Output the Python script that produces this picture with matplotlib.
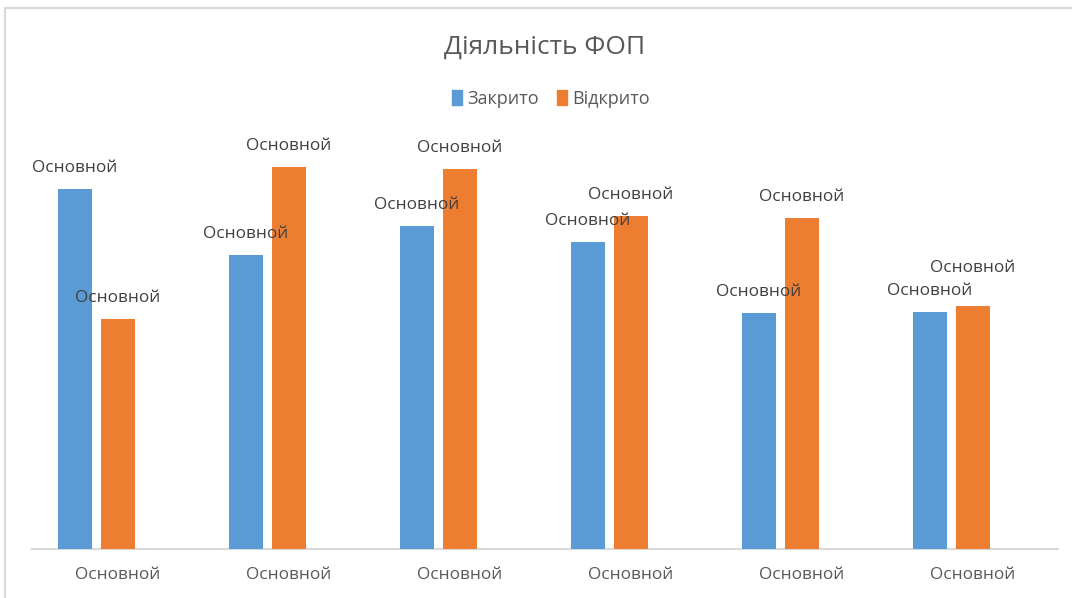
import matplotlib
matplotlib.use("Agg")
import matplotlib.pyplot as plt
from matplotlib.lines import Line2D
from matplotlib.patches import Patch
import numpy as np

plt.rcParams['font.family'] = ['Open Sans', 'DejaVu Sans']

title = "Діяльність ФОП"
categories = ["Основной"] * 6
series_names = ["Закрито", "Відкрито"]
closed = [360, 294, 323, 307, 236, 237]
opened = [230, 382, 380, 333, 331, 243]
labels_closed = ["Основной"] * 6
labels_opened = ["Основной"] * 6

BLUE = "#5B9BD5"
ORANGE = "#ED7D31"
GRAY = "#595959"
LABEL = "#404040"

W, H = 1072, 598
fig = plt.figure(figsize=(W / 100, H / 100), dpi=100)
ax = fig.add_axes([32 / W, 49 / H, 1026 / W, 400 / H])

x = np.arange(len(categories))
bw = 34 / 171
off_blue = -43 / 171
ax.bar(x + off_blue, closed, width=bw, color=BLUE, zorder=2)
ax.bar(x, opened, width=bw, color=ORANGE, zorder=2)

ax.set_xlim(-0.5, len(categories) - 0.5)
ax.set_ylim(0, 400)

# data labels
lab_off_closed = [21, 21, 21, 21, 21, 21]
lab_off_opened = [21, 21, 21, 21, 21, 38]
for i in range(len(categories)):
    ax.annotate(labels_closed[i], (x[i] + off_blue, closed[i]), xytext=(0, lab_off_closed[i]),
                textcoords='offset pixels', ha='center', va='center', fontsize=12.4,
                color=LABEL, zorder=3, annotation_clip=False)
    ax.annotate(labels_opened[i], (x[i], opened[i]), xytext=(0, lab_off_opened[i]),
                textcoords='offset pixels', ha='center', va='center', fontsize=12.4,
                color=LABEL, zorder=3, annotation_clip=False)

ax.set_xticks(x)
ax.set_xticklabels(categories, fontsize=12.4, color=GRAY)
ax.tick_params(axis='x', length=0, pad=13)
ax.set_yticks([])
for s in ['top', 'right', 'left']:
    ax.spines[s].set_visible(False)
ax.spines['bottom'].set_color('#D9D9D9')
ax.spines['bottom'].set_linewidth(1.5)
ax.spines['bottom'].set_zorder(1)

fig.text(545 / W, 1 - 47 / H, title, ha='center', va='center', fontsize=19, color=GRAY)

handles = [Patch(color=BLUE), Patch(color=ORANGE)]
fig.legend(handles, series_names, loc='center', bbox_to_anchor=(551 / W, 1 - 99 / H), ncol=2,
           frameon=False, fontsize=13, handlelength=0.55, handleheight=0.9,
           handletextpad=0.3, columnspacing=1.0, labelcolor=GRAY)

# chart frame (partially visible)
fig.add_artist(Line2D([5 / W, 5 / W], [0, 1 - 8 / H], color='#D9D9D9', lw=1.5))
fig.add_artist(Line2D([5 / W, 1], [1 - 8 / H, 1 - 8 / H], color='#D9D9D9', lw=1.5))

fig.savefig("out.png", dpi=100)
